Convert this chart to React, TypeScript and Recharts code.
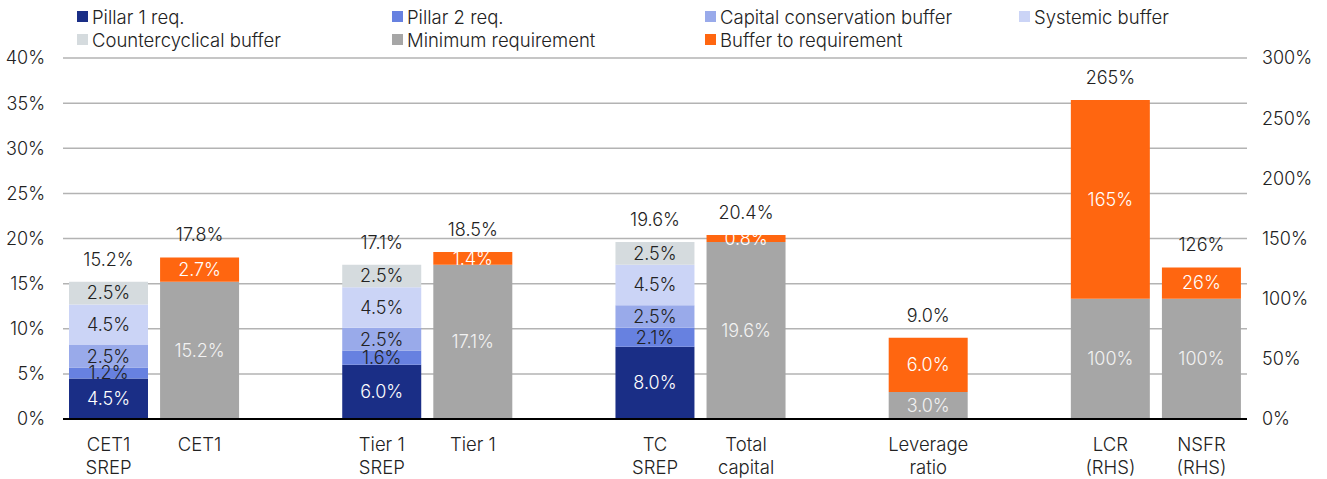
import { BarChart, Bar, XAxis, YAxis, CartesianGrid, LabelList } from "recharts";

const categories = [
  "CET1\nSREP",
  "CET1",
  "",
  "Tier 1\nSREP",
  "Tier 1",
  "",
  "TC\nSREP",
  "Total\ncapital",
  "",
  "Leverage\nratio",
  "",
  "LCR\n(RHS)",
  "NSFR\n(RHS)",
];

// left axis series (% of RWA)
const pillar1 = [4.5, null, null, 6.0, null, null, 8.0, null, null, null, null, null, null];
const pillar2 = [1.2, null, null, 1.6, null, null, 2.1, null, null, null, null, null, null];
const conservation = [2.5, null, null, 2.5, null, null, 2.5, null, null, null, null, null, null];
const systemic = [4.5, null, null, 4.5, null, null, 4.5, null, null, null, null, null, null];
const countercyclical = [2.5, null, null, 2.5, null, null, 2.5, null, null, null, null, null, null];
const minimum = [null, 15.2, null, null, 17.1, null, null, 19.6, null, 3.0, null, null, null];
const buffer = [null, 2.7, null, null, 1.4, null, null, 0.8, null, 6.0, null, null, null];
const srepTotal = [15.2, null, null, 17.1, null, null, 19.6, null, null, null, null, null, null];
const capitalTotal = [null, 17.8, null, null, 18.5, null, null, 20.4, null, 9.0, null, null, null];

// right axis series (liquidity ratios)
const minimumRhs = [null, null, null, null, null, null, null, null, null, null, null, 100, 100];
const bufferRhs = [null, null, null, null, null, null, null, null, null, null, null, 165, 26];
const rhsTotal = [null, null, null, null, null, null, null, null, null, null, null, 265, 126];

const leftTicks = [0, 5, 10, 15, 20, 25, 30, 35, 40];
const rightTicks = [0, 50, 100, 150, 200, 250, 300];

const data = categories.map((name, i) => ({
  name,
  pillar1: pillar1[i],
  pillar2: pillar2[i],
  conservation: conservation[i],
  systemic: systemic[i],
  countercyclical: countercyclical[i],
  minimum: minimum[i],
  buffer: buffer[i],
  srepTotal: srepTotal[i],
  capitalTotal: capitalTotal[i],
  minimumRhs: minimumRhs[i],
  bufferRhs: bufferRhs[i],
  rhsTotal: rhsTotal[i],
}));

const FONT = "Inter, 'Noto Sans', sans-serif";
const TEXT = "#222";

const C = {
  pillar1: "#1a2e86",
  pillar2: "#6781e0",
  conservation: "#99aaea",
  systemic: "#cbd4f6",
  countercyclical: "#d5dbde",
  minimum: "#a6a6a6",
  buffer: "#ff6610",
};

const legendItems = [
  { label: "Pillar 1 req.", color: C.pillar1, x: 77, y: 0 },
  { label: "Pillar 2 req.", color: C.pillar2, x: 392, y: 0 },
  { label: "Capital conservation buffer", color: C.conservation, x: 705, y: 0 },
  { label: "Systemic buffer", color: C.systemic, x: 1019, y: 0 },
  { label: "Countercyclical buffer", color: C.countercyclical, x: 77, y: 1 },
  { label: "Minimum requirement", color: C.minimum, x: 392, y: 1 },
  { label: "Buffer to requirement", color: C.buffer, x: 705, y: 1 },
];

const pct1 = (v: any) => (v == null ? "" : `${Number(v).toFixed(1)}%`);
const pct0 = (v: any) => (v == null ? "" : `${Math.round(Number(v))}%`);

const labelStyle = { fontFamily: FONT, fontSize: 18, fontWeight: 300 };
const catStyle = { fontFamily: FONT, fontSize: 18.5, fontWeight: 300 };

function CategoryTick({ x, y, payload }: any) {
  const lines = String(payload.value).split("\n");
  return (
    <text x={x} y={y} textAnchor="middle" fill={TEXT} style={catStyle}>
      {lines.map((l, i) => (
        <tspan key={i} x={x} dy={i === 0 ? 30 : 23}>
          {l}
        </tspan>
      ))}
    </text>
  );
}

export default function App() {
  return (
    <div style={{ position: "absolute", left: 0, top: 0, width: 1327, height: 479, background: "#fff" }}>
      {legendItems.map((it) => (
        <div
          key={it.label}
          style={{
            position: "absolute",
            left: it.x,
            top: 5 + it.y * 23,
            height: 23,
            display: "flex",
            alignItems: "center",
            fontFamily: FONT,
            fontSize: 18.5,
            fontWeight: 300,
            color: TEXT,
            whiteSpace: "nowrap",
          }}
        >
          <span style={{ width: 11, height: 11, background: it.color, marginRight: 4, display: "inline-block" }} />
          {it.label}
        </div>
      ))}
      <BarChart
        width={1327}
        height={479}
        data={data}
        margin={{ top: 58, right: 0, bottom: 0, left: 0 }}
        barSize={79}
      >
        <CartesianGrid vertical={false} stroke="#b3b3b3" strokeWidth={1.5} yAxisId="left" />
        <XAxis
          dataKey="name"
          axisLine={{ stroke: "#000", strokeWidth: 2 }}
          tickLine={false}
          tickSize={0}
          height={60}
          interval={0}
          tick={<CategoryTick />}
        />
        <YAxis
          yAxisId="left"
          domain={[0, 40]}
          ticks={leftTicks}
          width={63}
          axisLine={false}
          tickLine={false}
          tickSize={0}
          tickMargin={18}
          tickFormatter={(v) => `${v}%`}
          tick={{ fill: TEXT, ...labelStyle }}
        />
        <YAxis
          yAxisId="right"
          orientation="right"
          domain={[0, 300]}
          ticks={rightTicks}
          width={80}
          axisLine={false}
          tickLine={false}
          tickSize={0}
          tickMargin={15}
          tickFormatter={(v) => `${v}%`}
          tick={{ fill: TEXT, ...labelStyle }}
        />
        <Bar dataKey="pillar1" stackId="a" yAxisId="left" fill={C.pillar1} isAnimationActive={false}>
          <LabelList dataKey="pillar1" position="center" formatter={pct1} fill="#fff" style={labelStyle} />
        </Bar>
        <Bar dataKey="pillar2" stackId="a" yAxisId="left" fill={C.pillar2} isAnimationActive={false}>
          <LabelList dataKey="pillar2" position="center" formatter={pct1} fill={TEXT} style={labelStyle} />
        </Bar>
        <Bar dataKey="conservation" stackId="a" yAxisId="left" fill={C.conservation} isAnimationActive={false}>
          <LabelList dataKey="conservation" position="center" formatter={pct1} fill={TEXT} style={labelStyle} />
        </Bar>
        <Bar dataKey="systemic" stackId="a" yAxisId="left" fill={C.systemic} isAnimationActive={false}>
          <LabelList dataKey="systemic" position="center" formatter={pct1} fill={TEXT} style={labelStyle} />
        </Bar>
        <Bar dataKey="countercyclical" stackId="a" yAxisId="left" fill={C.countercyclical} isAnimationActive={false}>
          <LabelList dataKey="countercyclical" position="center" formatter={pct1} fill={TEXT} style={labelStyle} />
          <LabelList dataKey="srepTotal" position="top" offset={16} formatter={pct1} fill={TEXT} style={labelStyle} />
        </Bar>
        <Bar dataKey="minimum" stackId="a" yAxisId="left" fill={C.minimum} isAnimationActive={false}>
          <LabelList dataKey="minimum" position="center" formatter={pct1} fill="#f2f2f2" style={labelStyle} />
        </Bar>
        <Bar dataKey="buffer" stackId="a" yAxisId="left" fill={C.buffer} isAnimationActive={false}>
          <LabelList dataKey="buffer" position="center" formatter={pct1} fill="#fff" style={labelStyle} />
          <LabelList dataKey="capitalTotal" position="top" offset={16} formatter={pct1} fill={TEXT} style={labelStyle} />
        </Bar>
        <Bar dataKey="minimumRhs" stackId="a" yAxisId="right" fill={C.minimum} isAnimationActive={false}>
          <LabelList dataKey="minimumRhs" position="center" formatter={pct0} fill="#f2f2f2" style={labelStyle} />
        </Bar>
        <Bar dataKey="bufferRhs" stackId="a" yAxisId="right" fill={C.buffer} isAnimationActive={false}>
          <LabelList dataKey="bufferRhs" position="center" formatter={pct0} fill="#fff" style={labelStyle} />
          <LabelList dataKey="rhsTotal" position="top" offset={16} formatter={pct0} fill={TEXT} style={labelStyle} />
        </Bar>
      </BarChart>
    </div>
  );
}
